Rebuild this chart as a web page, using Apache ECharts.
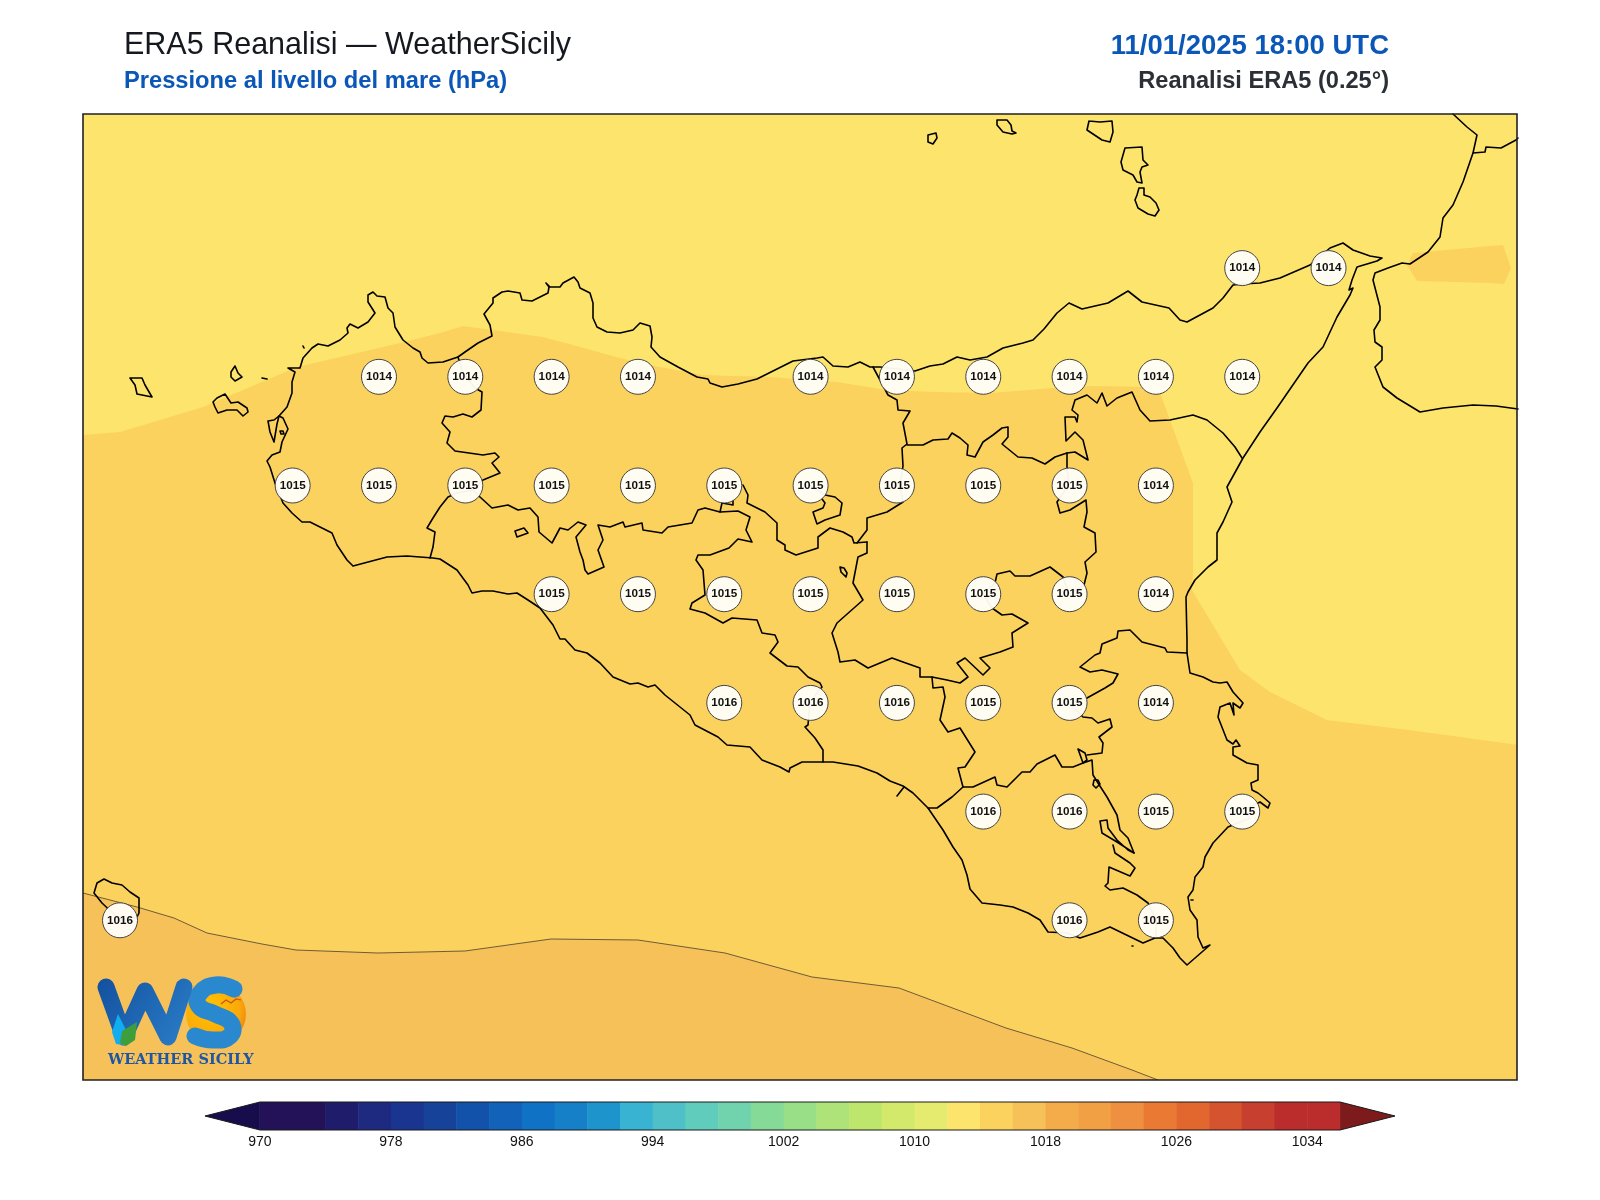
<!DOCTYPE html>
<html>
<head>
<meta charset="utf-8">
<title>ERA5 Reanalisi - WeatherSicily</title>
<script src="https://cdn.jsdelivr.net/npm/echarts@6/dist/echarts.min.js"></script>
<style>html,body{margin:0;background:#fff}#chart{width:1600px;height:1200px}</style>
</head>
<body>
<div id="chart"></div>
<script>
// stations on the ERA5 0.25 degree grid
var stationLon = [15.25,15.5,
  12.75,13,13.25,13.5,14,14.25,14.5,14.75,15,15.25,
  12.5,12.75,13,13.25,13.5,13.75,14,14.25,14.5,14.75,15,
  13.25,13.5,13.75,14,14.25,14.5,14.75,15,
  13.75,14,14.25,14.5,14.75,15,
  14.5,14.75,15,15.25,
  12,14.75,15];
var stationLat = [38.25,38.25,
  38,38,38,38,38,38,38,38,38,38,
  37.75,37.75,37.75,37.75,37.75,37.75,37.75,37.75,37.75,37.75,37.75,
  37.5,37.5,37.5,37.5,37.5,37.5,37.5,37.5,
  37.25,37.25,37.25,37.25,37.25,37.25,
  37,37,37,37,
  36.75,36.75,36.75];
var stationHpa = [1014,1014,
  1014,1014,1014,1014,1014,1014,1014,1014,1014,1014,
  1015,1015,1015,1015,1015,1015,1015,1015,1015,1015,1014,
  1015,1015,1015,1015,1015,1015,1015,1014,
  1016,1016,1016,1015,1015,1014,
  1016,1016,1015,1015,
  1016,1016,1015];

// colour scale
var scaleLevels = [970,972,974,976,978,980,982,984,986,988,990,992,994,996,998,1000,1002,1004,1006,1008,1010,1012,1014,1016,1018,1020,1022,1024,1026,1028,1030,1032,1034];
var scaleColors = ['#241259','#241259','#1f1c6b','#1e2a80','#1a3590','#164399','#1352ab','#1162b8','#0f72c4','#1580c8','#1e94cd','#38b4d2','#50c0c8','#5fccbc','#70d3ad','#85da98','#98df87','#aee379','#bfe66c','#d2e96c','#e4eb6e','#fde56d','#fcd25f','#f6c158','#f4ab4a','#f2a044','#ef8f40','#ea7a33','#e1672e','#d5532f','#c63f2f','#bb2c2c','#bb2c2c'];
var scaleTicks = [970,978,986,994,1002,1010,1018,1026,1034];

var bandMid = [[83,435],[120,432],[203,407],[297,367],[400,343],[440,333],[463,326],[493,330],[543,337],[573,345],[620,358],[660,367],[703,375],[770,377],[837,382],[887,390],[937,392],[990,393],[1053,388],[1093,386],[1158,387],[1170,420],[1193,483],[1193,573],[1192,590],[1210,620],[1240,670],[1270,692],[1327,720],[1409,730],[1518,745],[1518,1080],[83,1080]];
var bandMidEast = [[1407,265],[1413,253],[1490,246],[1503,245],[1511,268],[1504,284],[1490,283],[1417,281]];
var contour1016 = [[83,893],[137,907],[174,918],[207,933],[262,944],[296,950],[378,953],[465,951],[551,939],[638,940],[725,953],[812,977],[899,988],[1006,1028],[1072,1048],[1132,1070],[1158,1080]];

var coastSicily = [[353,566],[347,560],[337,545],[332,533],[322,528],[310,522],[302,522],[292,513],[283,503],[275,483],[270,467],[267,461],[272,455],[280,452],[282,442],[288,429],[283,418],[279,416],[287,407],[292,393],[292,382],[295,372],[288,368],[300,368],[303,358],[312,348],[318,344],[328,346],[340,340],[348,333],[347,328],[350,324],[358,328],[368,322],[375,313],[368,302],[368,295],[373,292],[377,296],[385,297],[388,308],[393,313],[395,327],[403,340],[413,348],[420,352],[422,358],[428,363],[443,362],[458,357],[465,352],[478,343],[492,336],[490,325],[484,314],[493,303],[493,298],[502,292],[508,291],[520,293],[522,300],[532,301],[548,293],[549,287],[546,283],[550,287],[560,287],[563,283],[574,277],[578,282],[580,288],[590,293],[593,303],[593,318],[597,327],[607,332],[620,333],[633,330],[640,323],[650,326],[652,337],[651,347],[660,357],[678,367],[697,377],[708,379],[710,383],[722,387],[738,384],[757,379],[777,369],[793,361],[817,358],[823,357],[833,366],[848,367],[860,362],[870,367],[880,367],[915,371],[930,366],[943,364],[957,357],[970,360],[987,357],[1003,348],[1023,343],[1033,340],[1044,329],[1057,313],[1069,303],[1082,309],[1108,303],[1128,291],[1142,302],[1169,308],[1180,320],[1187,322],[1200,315],[1213,308],[1223,298],[1233,285],[1242,284],[1260,283],[1280,278],[1310,265],[1330,248],[1343,243],[1353,250],[1370,256],[1382,258],[1377,261],[1357,267],[1352,280],[1349,290],[1353,288],[1350,295],[1337,317],[1323,347],[1308,363],[1277,408],[1260,432],[1243,458],[1227,487],[1232,502],[1223,522],[1217,533],[1217,560],[1208,567],[1195,580],[1188,592],[1186,597],[1187,640],[1187,653],[1190,673],[1203,677],[1213,682],[1220,683],[1227,682],[1233,692],[1243,703],[1240,708],[1233,703],[1234,715],[1230,703],[1220,707],[1218,717],[1227,740],[1233,744],[1236,740],[1240,746],[1233,747],[1233,755],[1247,763],[1258,765],[1258,780],[1251,783],[1252,790],[1258,793],[1263,797],[1270,803],[1268,808],[1260,802],[1242,811],[1250,818],[1228,827],[1213,843],[1205,857],[1203,867],[1195,877],[1193,890],[1188,897],[1190,910],[1197,920],[1198,937],[1203,948],[1210,945],[1187,965],[1180,958],[1173,948],[1163,938],[1155,938],[1143,943],[1110,927],[1098,932],[1080,938],[1067,933],[1048,932],[1040,920],[1028,913],[1013,907],[1000,905],[982,903],[970,889],[967,875],[962,860],[953,847],[943,830],[928,808],[913,793],[903,786],[890,781],[877,773],[858,766],[833,762],[823,762],[802,762],[790,768],[789,772],[780,767],[762,760],[750,747],[727,745],[718,737],[695,725],[690,715],[680,707],[665,695],[655,685],[648,687],[638,683],[630,684],[613,677],[600,663],[587,653],[575,650],[565,639],[560,639],[553,625],[540,608],[528,600],[517,593],[508,594],[493,591],[482,591],[472,593],[468,585],[457,570],[440,559],[433,558],[407,556],[387,557],[353,566]];
var coastCalabria = [[1453,114],[1467,127],[1477,135],[1473,153],[1463,182],[1453,205],[1443,218],[1440,237],[1428,252],[1410,264],[1402,263],[1388,268],[1375,273],[1373,280],[1380,307],[1380,320],[1374,330],[1375,342],[1382,347],[1382,360],[1375,367],[1383,387],[1397,398],[1420,412],[1443,408],[1473,405],[1496,406],[1518,409]];
var coastCalabriaNorth = [[1473,153],[1485,152],[1486,147],[1501,148],[1516,140],[1518,138]];
var islandMarettimo = [[130,378],[142,378],[145,385],[152,397],[137,394],[135,385],[130,378]];
var islandLevanzo = [[235,366],[238,373],[242,377],[235,381],[231,377],[231,372],[235,366]];
var islandFavignana = [[213,402],[217,398],[225,394],[231,403],[238,402],[247,408],[248,412],[243,416],[237,410],[227,410],[218,413],[215,407],[213,402]];
var islandFormica = [[262,378],[267,379]];
var islandAsinelli = [[303,346],[304,348]];
var islandStagnone = [[279,416],[274,420],[268,421],[270,432],[274,442],[276,430],[277,424],[279,416]];
var islandMozia = [[280,431],[283,431],[284,434],[281,434],[280,431]];
var islandAlicudi = [[928,135],[936,133],[937,138],[933,144],[928,142],[928,135]];
var islandFilicudi = [[997,120],[1007,120],[1011,125],[1012,131],[1016,133],[1012,134],[1003,132],[997,125],[997,120]];
var islandSalina = [[1089,121],[1100,122],[1112,121],[1113,132],[1110,142],[1102,140],[1087,130],[1089,121]];
var islandLipari = [[1125,148],[1142,147],[1143,160],[1148,165],[1142,167],[1140,172],[1142,183],[1137,182],[1133,175],[1123,170],[1121,162],[1125,148]];
var islandVulcano = [[1139,188],[1144,188],[1144,195],[1150,197],[1156,203],[1159,210],[1155,216],[1148,214],[1138,208],[1135,200],[1137,195],[1139,188]];
var islandPantelleria = [[94,893],[97,883],[104,879],[112,883],[122,885],[130,892],[139,898],[139,913],[137,917],[120,920],[102,903],[94,893]];
var spotSouth = [[1132,946],[1133,946]];
var spotEast = [[1191,900],[1193,900]];
var spotGela = [[897,796],[904,787]];

var borderTrapani = [[458,357],[463,373],[475,388],[482,392],[481,410],[472,417],[463,414],[453,417],[445,416],[442,423],[450,432],[447,443],[455,451],[483,455],[495,453],[499,457],[492,463],[500,473],[483,480],[473,490],[457,493],[448,497],[440,507],[433,518],[427,528],[435,532],[433,547],[430,558]];
var borderPalermoSouth = [[473,490],[480,497],[492,508],[508,505],[518,510],[530,508],[538,517],[539,532],[552,543],[560,528],[568,530],[578,522],[586,525],[576,537],[580,552],[583,560],[585,570],[588,574],[604,567],[598,550],[603,540],[598,525],[610,527],[623,522],[625,527],[642,523],[643,530],[662,533],[668,527],[692,523],[698,510],[705,508],[720,512],[738,511],[750,517],[746,530],[752,542],[738,539],[729,548],[710,555],[698,555],[696,560],[703,570],[705,595],[692,603],[690,609],[705,613],[723,623],[732,618],[757,620],[762,633],[775,635],[778,642],[770,653],[787,666],[798,667],[808,677],[820,683],[822,687],[810,702],[808,725],[805,727],[815,738],[823,750],[823,762]];
var borderStub = [[720,512],[722,503],[733,505],[733,499]];
var borderPalermoEast = [[743,485],[748,495],[747,503],[765,512],[777,523],[777,540],[785,545],[785,550],[796,555],[818,548],[818,537],[830,528],[843,532],[852,537],[854,543],[867,542]];
var borderMessinaWest = [[857,543],[867,530],[867,518],[887,512],[903,502],[900,485],[903,466],[902,448],[907,444],[903,423],[910,411],[898,410],[897,400],[888,395],[880,380],[873,367]];
var borderMessinaSouth = [[907,445],[923,445],[933,440],[948,439],[952,433],[960,438],[968,445],[967,455],[975,457],[983,442],[993,435],[1002,428],[1008,427],[1008,437],[1002,444],[1018,457],[1032,458],[1045,464],[1055,457],[1067,453],[1075,452],[1088,460],[1083,440],[1075,432],[1066,441],[1065,417],[1075,417],[1077,422],[1078,415],[1072,410],[1075,400],[1087,395],[1097,403],[1102,393],[1107,406],[1117,398],[1132,392],[1140,410],[1150,421],[1170,420],[1193,415],[1207,420],[1223,433],[1235,447],[1242,458]];
var borderEnnaEast = [[1067,453],[1067,467],[1069,485],[1057,502],[1060,513],[1070,510],[1086,500],[1087,512],[1084,527],[1095,533],[1096,552],[1085,562],[1087,573],[1084,585],[1069,594]];
var borderEnnaSouth = [[1069,594],[1063,577],[1050,567],[1030,576],[1015,576],[1010,571],[997,574],[995,583],[983,594],[992,608],[1002,615],[1012,614],[1028,623],[1012,633],[1013,647],[1000,652],[980,658],[990,668],[983,675],[965,658],[957,663],[968,677],[960,683],[947,680],[932,677],[920,677],[920,668],[903,662],[892,658],[868,668],[855,660],[840,662],[838,652],[832,633],[837,623],[863,600],[853,583],[858,557],[867,553],[867,542]];
var borderRagusaWest = [[932,677],[933,688],[943,687],[945,697],[940,720],[948,732],[960,728],[975,752],[965,767],[958,768],[963,787],[952,797],[937,808],[928,808]];
var borderRagusaNorth = [[963,787],[973,787],[995,777],[997,785],[1007,787],[1022,772],[1030,772],[1037,764],[1055,755],[1062,767],[1073,767],[1083,763],[1092,760],[1093,775],[1098,783],[1107,797],[1117,815],[1120,830],[1128,838],[1134,853]];
var borderRagusaSouth = [[1113,845],[1115,853],[1130,863],[1135,868],[1130,876],[1109,867],[1108,883],[1105,886],[1110,890],[1123,888],[1137,895],[1148,903],[1156,920],[1156,938]];
var lakeDiamond = [[1078,749],[1085,753],[1087,760],[1083,763],[1078,749]];
var lakeLoop = [[1094,780],[1098,780],[1100,784],[1096,788],[1093,785],[1094,780]];
var lakeLong = [[1100,821],[1107,820],[1108,828],[1117,840],[1128,850],[1134,853],[1117,842],[1102,833],[1100,821]];
var borderSiracusa = [[1087,755],[1102,753],[1103,743],[1099,737],[1112,727],[1110,719],[1098,723],[1092,718],[1083,717],[1069,703],[1087,698],[1105,688],[1113,683],[1118,674],[1102,670],[1090,672],[1080,667],[1095,655],[1100,653],[1102,644],[1117,638],[1118,631],[1130,630],[1142,642],[1165,648],[1167,652],[1187,653]];
var lakeArancio = [[515,531],[524,528],[528,533],[517,537],[515,531]];
var lakePozzillo = [[840,567],[844,568],[847,573],[846,577],[841,572],[840,567]];
var borderEnclave = [[810,485],[825,495],[835,497],[842,503],[840,515],[825,520],[817,524],[813,512],[823,508],[825,503],[822,499]];

var mapLines = [coastSicily,coastCalabria,coastCalabriaNorth,islandMarettimo,islandLevanzo,islandFavignana,islandFormica,islandAsinelli,islandStagnone,islandMozia,islandAlicudi,islandFilicudi,islandSalina,islandLipari,islandVulcano,islandPantelleria,spotSouth,spotEast,spotGela,borderTrapani,borderPalermoSouth,borderStub,borderPalermoEast,borderMessinaWest,borderMessinaSouth,borderEnnaEast,borderEnnaSouth,borderRagusaWest,borderRagusaNorth,borderRagusaSouth,lakeDiamond,lakeLoop,lakeLong,borderSiracusa,lakeArancio,lakePozzillo,borderEnclave];

// sheet units to degrees
function lonOf(u){ return 12 + (u - 120) / 345.3; }
function latOf(v){ return 36.75 + (920.3 - v) / 434.8; }
function toGeo(line){ return line.map(function(p){ return [lonOf(p[0]), latOf(p[1])]; }); }

var lonMin = lonOf(83), lonMax = lonOf(1517), latMin = latOf(1080), latMax = latOf(114);

var stations = stationLon.map(function(lon, i){ return [lon, stationLat[i], stationHpa[i]]; });

function polygonSeries(ring, color, z){
	return {
		type: 'custom', z: z, clip: true, silent: true,
		data: [[lonMin, latMin]],
		renderItem: function(params, api){
			return { type: 'polygon', shape: { points: ring.map(function(p){ return api.coord(p); }) }, style: { fill: color } };
		}
	};
}

var series = [
	polygonSeries(toGeo([[83,114],[1518,114],[1518,1080],[83,1080]]), '#fde56d', 1),
	polygonSeries(toGeo(bandMid), '#fcd25f', 2),
	polygonSeries(toGeo(bandMidEast), '#fcd25f', 2),
	polygonSeries(toGeo(contour1016.concat([[83,1080]])), '#f6c158', 3),
	{
		type: 'line', z: 4, silent: true, showSymbol: false, clip: true,
		data: toGeo(contour1016),
		lineStyle: { color: '#4a4030', width: 0.8 }
	}
];
mapLines.forEach(function(line){
	series.push({
		type: 'line', z: 5, silent: true, showSymbol: false, clip: true,
		data: toGeo(line),
		lineStyle: { color: '#000', width: 1.6, join: 'round', cap: 'round' }
	});
});
series.push({
	type: 'scatter', z: 8, silent: true,
	data: stations,
	symbol: 'circle', symbolSize: 35,
	itemStyle: { color: 'rgba(255,253,247,0.96)', borderColor: '#444', borderWidth: 1, opacity: 1 },
	label: {
		show: true, position: 'inside', color: '#111',
		fontFamily: 'Liberation Sans', fontWeight: 'bold', fontSize: 11.7,
		formatter: function(p){ return p.value[2]; }
	}
});
// frame of the map
series.push({
	type: 'custom', z: 9, clip: false, silent: true,
	data: [[lonMin, latMin]],
	renderItem: function(params, api){
		var a = api.coord([lonMin, latMax]), b = api.coord([lonMax, latMin]);
		return { type: 'rect', shape: { x: a[0], y: a[1], width: b[0]-a[0], height: b[1]-a[1] }, style: { fill: null, stroke: '#222', lineWidth: 1.6 } };
	}
});
// colour bar, bottom grid
series.push({
	type: 'custom', xAxisIndex: 1, yAxisIndex: 1, z: 2, silent: true,
	data: scaleLevels.map(function(v, i){ return [v, v + 2, i]; }),
	renderItem: function(params, api){
		var a = api.coord([api.value(0), 1]), b = api.coord([api.value(1), 0]);
		return { type: 'rect', shape: { x: a[0], y: a[1], width: b[0]-a[0] + 0.5, height: b[1]-a[1] }, style: { fill: scaleColors[api.value(2)] } };
	}
});
function barPolygon(points, fill, stroke){
	return {
		type: 'custom', xAxisIndex: 1, yAxisIndex: 1, z: 3, silent: true,
		data: [[970, 0]],
		renderItem: function(params, api){
			return { type: 'polygon', shape: { points: points.map(function(p){ return api.coord(p); }) }, style: { fill: fill, stroke: stroke, lineWidth: 1 } };
		}
	};
}
series.push(barPolygon([[970,1],[966.64,0.5],[970,0]], '#170d4c', null));
series.push(barPolygon([[1036,1],[1039.36,0.5],[1036,0]], '#7d1a1c', null));
series.push(barPolygon([[970,1],[1036,1],[1039.36,0.5],[1036,0],[970,0],[966.64,0.5]], 'transparent', '#1a1a1a'));

var logoParts = [
	{ type: 'circle', shape: { cx: 216, cy: 1014, r: 30 }, style: { fill: { type: 'radial', x: 0.4, y: 0.4, r: 0.7, colorStops: [{offset:0,color:'#ffc400'},{offset:0.7,color:'#fba90a'},{offset:1,color:'#e97f10'}] } } },
	{ type: 'polyline', shape: { smooth: 0.5, points: [[234,989],[216,985],[200,993],[199,1006],[215,1014],[231,1023],[230,1036],[213,1040],[195,1036]] }, style: { fill: null, stroke: '#2a88cf', lineWidth: 17, lineCap: 'round' } },
	{ type: 'polyline', shape: { points: [[106,987],[124,1037],[145,991],[168,1037],[184,987]] }, style: { fill: null, lineWidth: 17, lineCap: 'round', lineJoin: 'round', stroke: { type: 'linear', x: 0, y: 0, x2: 1, y2: 1, colorStops: [{offset:0,color:'#13509f'},{offset:1,color:'#2b7fc9'}] } } },
	{ type: 'polygon', shape: { points: [[118,1014],[127,1032],[124,1045],[116,1044],[112,1032]] }, style: { fill: '#10aef0' } },
	{ type: 'polygon', shape: { points: [[137,1022],[135,1040],[126,1046],[120,1043],[122,1031]] }, style: { fill: '#3f9e3c' } },
	{ type: 'polyline', shape: { points: [[221,1004],[226,1000],[231,1003],[236,999],[241,1000]] }, style: { fill: null, stroke: '#c9521a', lineWidth: 1.2 } },
	{ type: 'text', style: { x: 108, y: 1053, text: 'WEATHER SICILY', fill: '#1d56a5', font: 'bold 14.5px "DejaVu Serif"' } }
];
logoParts.forEach(function(el, i){ el.z = 20 + i; el.silent = true; });

var chart = echarts.init(document.getElementById('chart'));
chart.setOption({
	animation: false,
	backgroundColor: '#fff',
	title: [
		{ text: 'ERA5 Reanalisi \u2014 WeatherSicily', left: 119, top: 25, textStyle: { fontFamily: 'Liberation Sans', fontWeight: 'normal', fontSize: 30.5, color: '#15191f' } },
		{ text: 'Pressione al livello del mare (hPa)', left: 119, top: 64, textStyle: { fontFamily: 'Liberation Sans', fontWeight: 'bold', fontSize: 23.7, color: '#0b57b8' } },
		{ text: '11/01/2025 18:00 UTC', right: 206, top: 27, textStyle: { fontFamily: 'Liberation Sans', fontWeight: 'bold', fontSize: 27.5, color: '#0b57b8' } },
		{ text: 'Reanalisi ERA5 (0.25\u00b0)', right: 206, top: 64, textStyle: { fontFamily: 'Liberation Sans', fontWeight: 'bold', fontSize: 23.6, color: '#2b2f36' } }
	],
	grid: [
		{ left: 83, top: 114, width: 1434, height: 966 },
		{ left: 194.5, top: 1102, width: 1211, height: 28 }
	],
	xAxis: [
		{ type: 'value', gridIndex: 0, min: lonMin, max: lonMax, show: false },
		{
			type: 'value', gridIndex: 1, min: 966, max: 1040,
			axisLine: { show: false }, axisTick: { show: false }, splitLine: { show: false },
			axisLabel: { customValues: scaleTicks, margin: 5, color: '#111', fontFamily: 'Liberation Sans', fontSize: 14, formatter: function(v){ return String(v); } }
		}
	],
	yAxis: [
		{ type: 'value', gridIndex: 0, min: latMin, max: latMax, show: false },
		{ type: 'value', gridIndex: 1, min: 0, max: 1, show: false }
	],
	graphic: logoParts,
	series: series
});
</script>
</body>
</html>
